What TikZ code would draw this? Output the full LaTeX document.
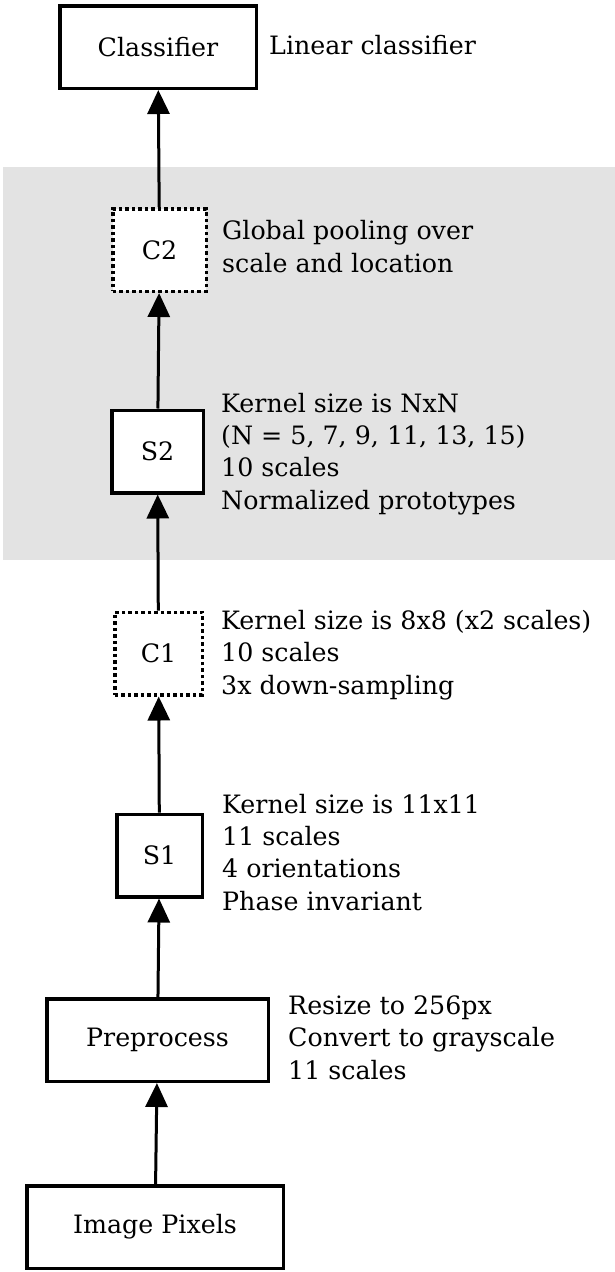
\documentclass[tikz,border=0pt]{standalone}
\usepackage{fontspec}
\setmainfont{DejaVu Serif}
\usetikzlibrary{arrows.meta, positioning}
\definecolor{bandgray}{HTML}{E3E3E3}

\begin{document}
\begin{tikzpicture}[x=1pt, y=-1pt, >={Triangle[length=24pt, width=22pt]},
    layer/.style={draw, line width=3.5pt, fill=white, inner sep=0pt, minimum height=82.5pt,
      font=\fontsize{25.3}{32.3}\selectfont},
    pool/.style={layer, dash pattern=on 3.5pt off 3pt},
    note/.style={anchor=base west, align=left, inner sep=0pt,
      font=\fontsize{25.3}{32.3}\selectfont},
    edge/.style={->, line width=3pt}]
      \useasboundingbox (0,0) rectangle (615,1272);

      % shaded band behind the second stage
      \fill[bandgray] (3,167) rectangle (615,560);

      % layers, bottom to top
      \node[layer, minimum width=256.5pt] (pixels) at (155,1227) {Image Pixels};
      \node[layer, minimum width=221.5pt] (prep) at (157.5,1040) {Preprocess};
      \node[layer, minimum width=85.5pt] (s1) at (159.5,855.5) {S1};
      \node[pool, minimum width=87.5pt] (c1) at (158.5,653.5) {C1};
      \node[layer, minimum width=91.5pt] (s2) at (157.5,451.5) {S2};
      \node[pool, minimum width=93.5pt] (c2) at (159.5,250) {C2};
      \node[layer, minimum width=196.5pt] (clf) at (158,47) {Classifier};

      % notes beside the layers (placed at the baseline of their last line)
      \node[note] (prep_note) at (288,1079) {Resize to 256px\\Convert to grayscale\\11 scales};
      \node[note] (s1_note) at (222,910) {Kernel size is 11x11\\11 scales\\4 orientations\\Phase invariant};
      \node[note] (c1_note) at (221,694) {Kernel size is 8x8 (x2 scales)\\10 scales\\3x down-sampling};
      \node[note] (s2_note) at (221,509) {Kernel size is NxN\\(N = 5, 7, 9, 11, 13, 15)\\10 scales\\Normalized prototypes};
      \node[note] (c2_note) at (222,272) {Global pooling over\\scale and location};
      \node[note] (clf_note) at (269,54) {Linear classifier};

      % connections
      \draw[edge] (pixels) -- (prep);
      \draw[edge] (prep) -- (s1);
      \draw[edge] (s1) -- (c1);
      \draw[edge] (c1) -- (s2);
      \draw[edge] (s2) -- (c2);
      \draw[edge] (c2) -- (clf);

    \end{tikzpicture}
\end{document}
